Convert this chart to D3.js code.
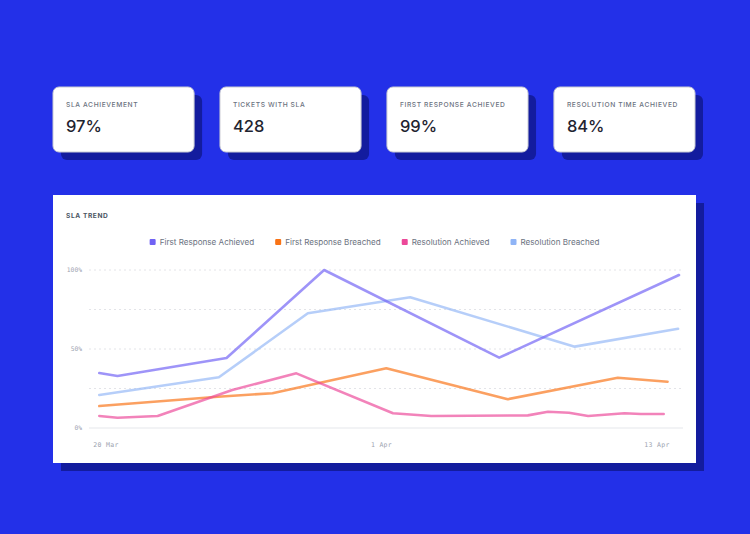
<!DOCTYPE html>
<html>
<head>
<meta charset="utf-8">
<script src="https://cdn.jsdelivr.net/npm/d3@7"></script>
<style>
  body { margin: 0; background: #2330e8; }
  svg { display: block; font-family: Inter, "Noto Sans", sans-serif; }
</style>
</head>
<body>
<svg id="chart" width="750" height="534"></svg>
<script>
// KPI cards
const kpiLabels = ["SLA ACHIEVEMENT", "TICKETS WITH SLA", "FIRST RESPONSE ACHIEVED", "RESOLUTION TIME ACHIEVED"];
const kpiValues = ["97%", "428", "99%", "84%"];

// trend series (date, percent)
const seriesNames = ["First Response Achieved", "First Response Breached", "Resolution Achieved", "Resolution Breached"];
const seriesColors = ["#7062f4", "#f97316", "#ec4899", "#8fb4f6"];

const firstResponseAchieved = [
    ["2024-03-19T17:00", 34.8], ["2024-03-20T12:00", 32.9], ["2024-03-25T06:00", 44.3],
    ["2024-03-29T12:00", 100], ["2024-04-06T03:00", 44.5], ["2024-04-13T23:00", 96.8]
];
const firstResponseBreached = [
    ["2024-03-19T17:00", 13.9], ["2024-03-24T21:00", 19.8], ["2024-03-27T06:00", 22.0],
    ["2024-04-01T05:00", 37.8], ["2024-04-06T12:00", 18.2], ["2024-04-11T07:00", 31.8],
    ["2024-04-13T11:00", 29.3]
];
const resolutionAchieved = [
    ["2024-03-19T17:00", 7.6], ["2024-03-20T12:00", 6.5], ["2024-03-22T06:00", 7.6],
    ["2024-03-25T12:00", 24.1], ["2024-03-28T07:00", 34.6], ["2024-04-01T12:00", 9.3],
    ["2024-04-03T04:00", 7.6], ["2024-04-07T09:00", 8.0], ["2024-04-08T06:00", 10.3],
    ["2024-04-09T04:00", 9.7], ["2024-04-10T00:00", 7.6], ["2024-04-11T14:00", 9.3],
    ["2024-04-12T07:00", 8.9], ["2024-04-13T07:00", 8.9]
];
const resolutionBreached = [
    ["2024-03-19T17:00", 20.9], ["2024-03-24T22:00", 32.1], ["2024-03-28T19:00", 72.6],
    ["2024-04-02T06:00", 82.7], ["2024-04-09T10:00", 51.5], ["2024-04-13T22:00", 62.8]
];

const xTickDates = ["2024-03-20", "2024-04-01", "2024-04-13"];
const yGridValues = [0, 25, 50, 75, 100];
const yTickLabels = [0, 50, 100];

const svg = d3.select("#chart");
const shadowColor = "#131c9e";

// ---- KPI cards ----
const cardH = 65, cardY = 87;
const cardX = d3.scaleBand().domain(d3.range(kpiLabels.length)).range([53, 695]).paddingInner(0.155);

const cards = svg.selectAll("g.card")
    .data(kpiLabels)
    .enter()
    .append("g")
    .attr("class", "card")
    .attr("transform", (d, i) => `translate(${cardX(i)},${cardY})`);

cards.append("rect")
    .attr("x", 8).attr("y", 8)
    .attr("width", cardX.bandwidth()).attr("height", cardH)
    .attr("rx", 6)
    .attr("fill", shadowColor);

cards.append("rect")
    .attr("width", cardX.bandwidth()).attr("height", cardH)
    .attr("rx", 6)
    .attr("fill", "#fff")
    .attr("stroke", "#c9cbd3")
    .attr("stroke-width", 1);

cards.append("text")
    .attr("x", 13).attr("y", 20)
    .attr("font-size", 6.7)
    .attr("font-weight", 500)
    .attr("letter-spacing", 0.6)
    .attr("fill", "#6b7280")
    .text((d) => d);

cards.append("text")
    .attr("x", 13).attr("y", 45)
    .attr("font-size", 16.5)
    .attr("font-weight", 500)
    .attr("fill", "#1f2430")
    .text((d, i) => kpiValues[i]);

// ---- trend panel ----
const panel = { x: 53, y: 195, w: 643, h: 268 };

svg.append("rect")
    .attr("x", panel.x + 8).attr("y", panel.y + 8)
    .attr("width", panel.w).attr("height", panel.h)
    .attr("fill", shadowColor);

svg.append("rect")
    .attr("x", panel.x).attr("y", panel.y)
    .attr("width", panel.w).attr("height", panel.h)
    .attr("fill", "#fff");

svg.append("text")
    .attr("x", 66).attr("y", 218)
    .attr("font-size", 6.6)
    .attr("font-weight", 700)
    .attr("letter-spacing", 0.6)
    .attr("fill", "#4b5563")
    .text("SLA TREND");

// legend, centred on panel
const legend = svg.append("g").attr("class", "legend");
const legendItems = legend.selectAll("g")
    .data(seriesNames)
    .enter()
    .append("g");

legendItems.append("rect")
    .attr("width", 6).attr("height", 6)
    .attr("y", -3)
    .attr("rx", 1)
    .attr("fill", (d, i) => seriesColors[i]);

legendItems.append("text")
    .attr("x", 10)
    .attr("dy", "0.35em")
    .attr("font-size", 8.1)
    .attr("fill", "#6b7280")
    .text((d) => d);

let lx = 0;
legendItems.each(function () {
    d3.select(this).attr("transform", `translate(${lx},0)`);
    lx += 10 + this.querySelector("text").getComputedTextLength() + 21;
});
lx -= 21;
legend.attr("transform", `translate(${panel.x + panel.w / 2 - lx / 2},242)`);

// scales
const parseTime = d3.utcParse("%Y-%m-%dT%H:%M");
const parseDay = d3.utcParse("%Y-%m-%d");
const x = d3.scaleUtc()
    .domain([parseDay(xTickDates[0]), parseDay(xTickDates[2])])
    .range([106, 657]);
const y = d3.scaleLinear().domain([0, 100]).range([428, 270]);
const gridX0 = 89, gridX1 = 683;

// grid
svg.append("g")
    .selectAll("line")
    .data(yGridValues)
    .enter()
    .append("line")
    .attr("x1", gridX0).attr("x2", gridX1)
    .attr("y1", (d) => y(d)).attr("y2", (d) => y(d))
    .attr("stroke", (d) => d === 0 ? "#e5e7eb" : "#e3e4e8")
    .attr("stroke-width", 1)
    .attr("stroke-dasharray", (d) => d === 0 ? null : "2,3");

const mono = "'DejaVu Sans Mono', 'Liberation Mono', monospace";

svg.append("g")
    .selectAll("text")
    .data(yTickLabels)
    .enter()
    .append("text")
    .attr("x", 82)
    .attr("y", (d) => y(d))
    .attr("dy", "0.35em")
    .attr("text-anchor", "end")
    .attr("font-family", mono)
    .attr("font-size", 6.3)
    .attr("fill", "#9ca3af")
    .text((d) => d + "%");

const fmtDay = d3.utcFormat("%-d %b");
svg.append("g")
    .selectAll("text")
    .data(xTickDates.map(parseDay))
    .enter()
    .append("text")
    .attr("x", (d) => x(d))
    .attr("y", 445)
    .attr("dy", "0.35em")
    .attr("text-anchor", "middle")
    .attr("font-family", mono)
    .attr("font-size", 6.5)
    .attr("letter-spacing", 0.3)
    .attr("fill", "#9ca3af")
    .text((d) => fmtDay(d));

// lines
const allSeries = [firstResponseAchieved, firstResponseBreached, resolutionAchieved, resolutionBreached];
const line = d3.line()
    .x((d) => x(parseTime(d[0])))
    .y((d) => y(d[1]));

// draw order: lightest underneath
const drawOrder = [3, 1, 2, 0];
svg.append("g")
    .selectAll("path")
    .data(drawOrder)
    .enter()
    .append("path")
    .attr("d", (i) => line(allSeries[i]))
    .attr("fill", "none")
    .attr("stroke", (i) => seriesColors[i])
    .attr("stroke-opacity", (i) => i === 3 ? 0.65 : 0.68)
    .attr("stroke-width", 2.6)
    .attr("stroke-linejoin", "round")
    .attr("stroke-linecap", "round");
</script>
</body>
</html>
